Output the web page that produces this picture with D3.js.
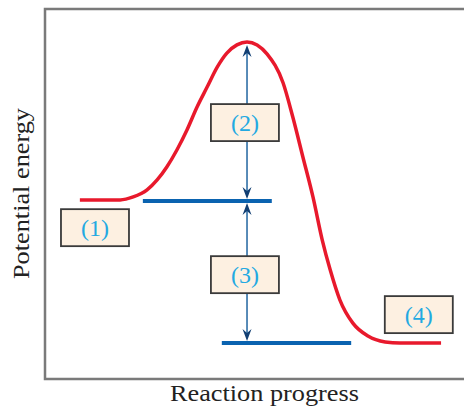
<!DOCTYPE html>
<html>
<head>
<meta charset="utf-8">
<script src="https://cdn.jsdelivr.net/npm/d3@7"></script>
<style>
  html, body { margin: 0; padding: 0; background: #ffffff; }
  svg { display: block; }
</style>
</head>
<body>
<svg id="chart" width="464" height="415"></svg>
<script>
// ---- data (reaction progress 0..100, potential energy 0..100) ----
const curveProgress = [8.3, 17.9, 21.0, 24.3, 26.7, 29.0, 31.4, 33.8, 36.2, 38.6, 41.0, 43.3, 45.7, 48.1, 50.5, 52.9, 56.7, 59.0, 61.4, 63.8, 66.0, 67.9, 70.2, 73.3, 76.9, 81.0, 84.5, 94.3];
const curveEnergy   = [48.4, 48.4, 49.2, 51.1, 53.8, 57.3, 61.9, 67.3, 73.5, 78.9, 84.3, 88.1, 90.3, 91.1, 90.3, 87.8, 80.0, 70.8, 60.0, 49.2, 37.6, 29.5, 21.4, 15.1, 11.6, 10.0, 9.7, 9.7];

const levelNames  = ["reactants", "products"];
const levelEnergy = [48.1, 9.7];
const levelStart  = [23.3, 42.1];
const levelEnd    = [54.0, 72.9];

const arrowProgress = 48.1;
const peakEnergy = 91.1;

const labelTexts    = ["(1)", "(2)", "(3)", "(4)"];
const labelProgress = [11.9, 47.6, 47.6, 89.0];
const labelEnergy   = [40.9, 69.3, 28.2, 17.4];

const xTitle = "Reaction progress";
const yTitle = "Potential energy";

// ---- layout ----
const svg = d3.select("#chart");
const mLeft = 45, mRight = 465, mTop = 9, mBottom = 379;
const x = d3.scaleLinear().domain([0, 100]).range([mLeft, mRight]);
const y = d3.scaleLinear().domain([0, 100]).range([mBottom, mTop]);

// frame (left, top, bottom; right side runs off the picture)
svg.append("path")
  .attr("d", `M${x(100) + 10},${y(100)}H${x(0)}V${y(0)}H${x(100) + 10}`)
  .attr("fill", "none")
  .attr("stroke", "#7a7a7a")
  .attr("stroke-width", 2.5);

// energy level lines
svg.selectAll("line.level")
  .data(levelNames)
  .join("line")
  .attr("class", "level")
  .attr("x1", (d, i) => x(levelStart[i]))
  .attr("x2", (d, i) => x(levelEnd[i]))
  .attr("y1", (d, i) => y(levelEnergy[i]))
  .attr("y2", (d, i) => y(levelEnergy[i]))
  .attr("stroke", "#0a63b0")
  .attr("stroke-width", 4);

// reaction curve
const pts = curveProgress.map((p, i) => [p, curveEnergy[i]]);
svg.append("path")
  .datum(pts)
  .attr("fill", "none")
  .attr("stroke", "#e8192c")
  .attr("stroke-width", 3.5)
  .attr("stroke-linecap", "butt")
  .attr("d", d3.line().x(d => x(d[0])).y(d => y(d[1])).curve(d3.curveMonotoneX));

// arrows
const ax = x(arrowProgress);
const arrows = [
  [y(peakEnergy) + 3, y(levelEnergy[0]) - 2],
  [y(levelEnergy[0]) + 2, y(levelEnergy[1]) - 2]
];
const headLen = 12, headW = 4.5, notch = 8;
function head(tx, ty, dir) { // dir -1 = pointing up, +1 = pointing down
  return `M${tx},${ty}L${tx - headW},${ty - dir * headLen}L${tx},${ty - dir * notch}L${tx + headW},${ty - dir * headLen}Z`;
}
arrows.forEach(([y1, y2]) => {
  svg.append("line")
    .attr("x1", ax).attr("x2", ax)
    .attr("y1", y1 + 6).attr("y2", y2 - 6)
    .attr("stroke", "#2f6fa6")
    .attr("stroke-width", 1.6);
  svg.append("path").attr("d", head(ax, y1, -1)).attr("fill", "#123f73");
  svg.append("path").attr("d", head(ax, y2, 1)).attr("fill", "#123f73");
});

// label boxes
const boxW = 68, boxH = 37;
const g = svg.selectAll("g.lab")
  .data(labelTexts)
  .join("g")
  .attr("class", "lab")
  .attr("transform", (d, i) => `translate(${x(labelProgress[i])},${y(labelEnergy[i])})`);
g.append("rect")
  .attr("x", -boxW / 2).attr("y", -boxH / 2)
  .attr("width", boxW).attr("height", boxH)
  .attr("fill", "#fdf0e1")
  .attr("stroke", "#3a3a3a")
  .attr("stroke-width", 1.8);
g.append("text")
  .attr("text-anchor", "middle")
  .attr("dy", "0.35em")
  .attr("font-family", "Liberation Serif, serif")
  .attr("font-size", 24)
  .attr("fill", "#23a9e1")
  .text(d => d);

// axis titles
svg.append("text")
  .attr("x", 170).attr("y", 401)
  .attr("font-family", "Liberation Serif, serif")
  .attr("font-size", 23)
  .attr("textLength", 189)
  .attr("lengthAdjust", "spacingAndGlyphs")
  .attr("fill", "#222")
  .text(xTitle);

svg.append("text")
  .attr("transform", "translate(29,279) rotate(-90)")
  .attr("font-family", "Liberation Serif, serif")
  .attr("font-size", 23)
  .attr("textLength", 171)
  .attr("lengthAdjust", "spacingAndGlyphs")
  .attr("fill", "#222")
  .text(yTitle);
</script>
</body>
</html>
